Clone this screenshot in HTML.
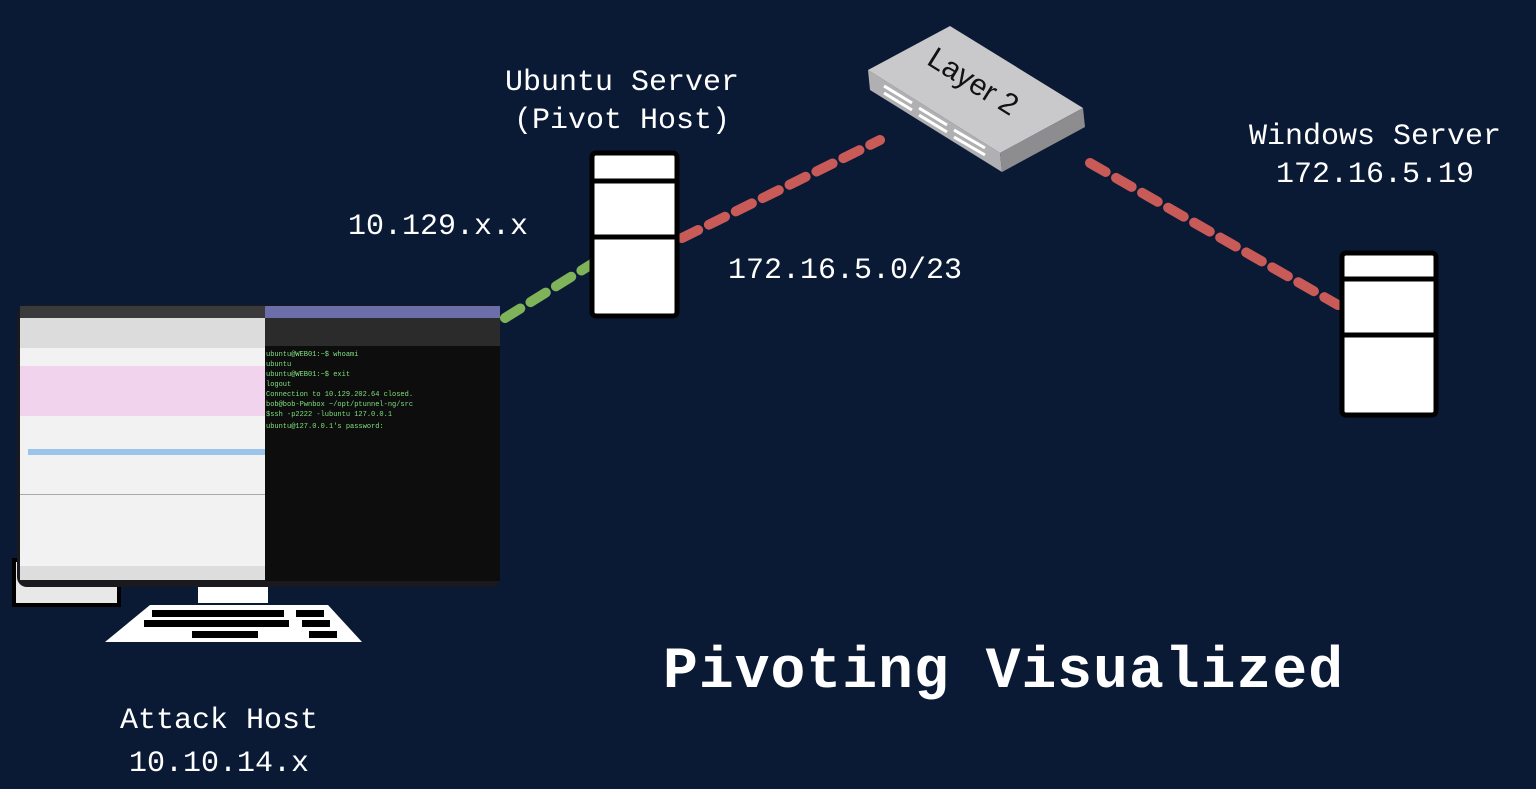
<!DOCTYPE html>
<html><head><meta charset="utf-8"><style>
html,body{margin:0;padding:0;background:#0a1a35;}
svg{display:block}
text{font-family:"Liberation Mono",monospace;fill:#fff}
</style></head><body>
<svg width="1536" height="789" viewBox="0 0 1536 789" xmlns="http://www.w3.org/2000/svg">
<rect width="1536" height="789" fill="#0a1a35"/>
<!-- connectors -->
<g fill="none" stroke-width="10" stroke-linecap="round" stroke-dasharray="18 12">
<line x1="505" y1="318" x2="595" y2="262" stroke="#7fb35a"/>
<line x1="682" y1="238" x2="880" y2="140" stroke="#c85a58"/>
<line x1="1090" y1="163" x2="1338" y2="305" stroke="#c85a58"/>
</g>
<!-- switch -->
<polygon points="868,70 950,26 1083,108 1000,153" fill="#c9c9cb"/>
<polygon points="868,70 1000,153 1002,172 870,90" fill="#b0b0b2"/>
<polygon points="1000,153 1083,108 1085,127 1002,172" fill="#8d8d90"/>
<g stroke="#fff" stroke-width="3">
<line x1="884" y1="86" x2="912" y2="103"/><line x1="884" y1="93" x2="912" y2="110"/>
<line x1="919" y1="108" x2="947" y2="125"/><line x1="919" y1="115" x2="947" y2="132"/>
<line x1="954" y1="130" x2="985" y2="148"/><line x1="954" y1="137" x2="985" y2="155"/>
</g>
<text x="968" y="90" transform="rotate(32 968 90)" text-anchor="middle" style="font-family:'Liberation Sans',sans-serif;fill:#111;font-size:30px">Layer 2</text>
<!-- servers -->
<g stroke="#000" stroke-width="5" fill="#fff">
<rect x="592" y="153" width="85" height="163" rx="4"/>
<line x1="592" y1="181" x2="677" y2="181"/><line x1="592" y1="237" x2="677" y2="237"/>
<rect x="1342" y="253" width="94" height="162" rx="4"/>
<line x1="1342" y1="279" x2="1436" y2="279"/><line x1="1342" y1="335" x2="1436" y2="335"/>
</g>
<!-- computer -->
<rect x="14" y="560" width="105" height="45" fill="#e8e8e8" stroke="#000" stroke-width="4"/>
<rect x="198" y="585" width="70" height="18" fill="#fff"/>
<polygon points="150,605 328,605 362,642 105,642" fill="#fff"/>
<g fill="#000">
<rect x="152" y="610" width="132" height="7"/><rect x="296" y="610" width="28" height="7"/>
<rect x="144" y="620" width="145" height="7"/><rect x="302" y="620" width="28" height="7"/>
<rect x="192" y="631" width="66" height="7"/><rect x="309" y="631" width="28" height="7"/>
</g>
<rect x="17" y="305" width="483" height="282" rx="10" fill="#1a1a1e"/>
<rect x="20" y="318" width="245" height="262" fill="#f2f2f2"/>
<rect x="20" y="306" width="245" height="12" fill="#3a3a3a"/>
<rect x="20" y="318" width="245" height="30" fill="#dcdcdc"/>
<rect x="20" y="366" width="245" height="50" fill="#f2d3ee"/>
<rect x="28" y="449" width="237" height="6" fill="#9cc3ea"/>
<rect x="20" y="494" width="245" height="1" fill="#aaa"/>
<rect x="20" y="566" width="245" height="14" fill="#ddd"/>
<rect x="265" y="306" width="235" height="12" fill="#6b6ea8"/>
<rect x="265" y="318" width="235" height="28" fill="#2b2b2b"/>
<rect x="265" y="346" width="235" height="235" fill="#0d0d0d"/>
<g style="font-size:7px" fill="#7fe07f">
<text x="266" y="356" style="fill:#7fe07f;font-size:7px">ubuntu@WEB01:~$ whoami</text>
<text x="266" y="366" style="fill:#7fe07f;font-size:7px">ubuntu</text>
<text x="266" y="376" style="fill:#7fe07f;font-size:7px">ubuntu@WEB01:~$ exit</text>
<text x="266" y="386" style="fill:#7fe07f;font-size:7px">logout</text>
<text x="266" y="396" style="fill:#7fe07f;font-size:7px">Connection to 10.129.202.64 closed.</text>
<text x="266" y="406" style="fill:#7fe07f;font-size:7px">  bob@bob-Pwnbox ~/opt/ptunnel-ng/src</text>
<text x="266" y="416" style="fill:#7fe07f;font-size:7px">   $ssh -p2222 -lubuntu 127.0.0.1</text>
<text x="266" y="428" style="fill:#7fe07f;font-size:7px">ubuntu@127.0.0.1's password:</text>
</g>
<!-- labels -->
<text x="622" y="90" text-anchor="middle" style="font-size:30px">Ubuntu Server</text>
<text x="622" y="128" text-anchor="middle" style="font-size:30px">(Pivot Host)</text>
<text x="438" y="234" text-anchor="middle" style="font-size:30px">10.129.x.x</text>
<text x="845" y="278" text-anchor="middle" style="font-size:30px">172.16.5.0/23</text>
<text x="1375" y="144" text-anchor="middle" style="font-size:30px">Windows Server</text>
<text x="1375" y="182" text-anchor="middle" style="font-size:30px">172.16.5.19</text>
<text x="219" y="728" text-anchor="middle" style="font-size:30px">Attack Host</text>
<text x="219" y="771" text-anchor="middle" style="font-size:30px">10.10.14.x</text>
<text x="1003" y="687" text-anchor="middle" style="font-size:58px;font-weight:bold" textLength="680">Pivoting Visualized</text>
</svg>
</body></html>
